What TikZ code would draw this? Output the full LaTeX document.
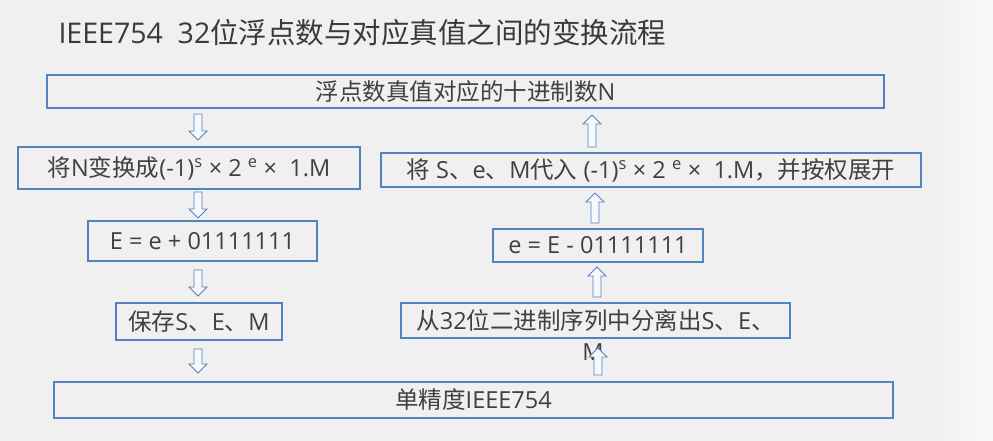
\documentclass[tikz,border=0pt]{standalone}
\usepackage{fontspec}
\setmainfont{Noto Sans CJK SC}
\newfontfamily\latfont{Open Sans}
\newcommand\lat[1]{{\latfont #1}}
\definecolor{bggray}{HTML}{F0F0F0}
\definecolor{boxblue}{HTML}{5183BF}
\definecolor{txtgray}{HTML}{404040}
\definecolor{arrfill}{HTML}{F6F8FB}

\begin{document}
\begin{tikzpicture}[x=1pt,y=-1pt,
    box/.style={draw=boxblue,line width=1.5pt,inner sep=0pt,text=txtgray,
      font=\fontsize{23.5}{28}\selectfont},
    % block arrow pointing down, #1 = half length
    pics/blockarr/.style={code={
      \draw[boxblue,fill=arrfill,line width=0.9pt]
        (-4,-#1) -- (-4,#1-9) -- (-9,#1-9) -- (0,#1) -- (9,#1-9) -- (4,#1-9) -- (4,-#1) -- cycle;}}]
    \fill[bggray] (0,0) rectangle (993,441);
    \shade[left color=bggray,right color=white!60!bggray] (930,0) rectangle (993,441);
    \node[anchor=west,text=txtgray!90!black,font=\fontsize{28.5}{34}\selectfont] (title) at (55,33)
      {\lat{IEEE754\ \ 32}位浮点数与对应真值之间的变换流程};
    % boxes
    \node[box,minimum width=837pt,minimum height=33pt] (decN) at (465.5,91.5) {浮点数真值对应的十进制数\lat{N}};
    \node[box,minimum width=342pt,minimum height=42pt] (conv) at (189,168)
      {将\lat{N}变换成\lat{(-1)\textsuperscript{s}\ × 2 \textsuperscript{e}\ ×\ \ 1.M}};
    \node[box,minimum width=540pt,minimum height=34pt] (subst) at (651,170)
      {将\lat{ S}、\lat{e}、\lat{M}代入\lat{ (-1)\textsuperscript{s}\ × 2 \textsuperscript{e}\ ×\ \ 1.M}，并按权展开};
    \node[box,minimum width=229pt,minimum height=40pt] (bias) at (202.5,241) {\lat{E\ =\ e\ +\ 01111111}};
    \node[box,minimum width=210pt,minimum height=33pt] (unbias) at (598,245.5) {\lat{e = E - 01111111}};
    \node[box,minimum width=166pt,minimum height=37pt] (save) at (199,321.5) {保存\lat{S}、\lat{E}、\lat{M}};
    \node[box,minimum width=389pt,minimum height=35pt] (split) at (595.5,320.5)
      {从\lat{32}位二进制序列中分离出\lat{S}、\lat{E}、};
    \node[text=txtgray,inner sep=0pt,font=\fontsize{23.5}{28}\selectfont] (splitM) at (593,352) {\lat{M}};
    \node[box,minimum width=839pt,minimum height=36pt] (single) at (473.5,400) {单精度\lat{IEEE754}};
    % left column, downwards
    \pic at (198,127) {blockarr=13};
    \pic at (198,205) {blockarr=13};
    \pic at (198,283) {blockarr=13};
    \pic at (198,361) {blockarr=12};
    % right column, upwards
    \pic[rotate=180] at (598,361.5) {blockarr=13.5};
    \pic[rotate=180] at (597,282) {blockarr=15};
    \pic[rotate=180] at (595,208) {blockarr=15};
    \pic[rotate=180] at (592,131) {blockarr=16};
\end{tikzpicture}
\end{document}
